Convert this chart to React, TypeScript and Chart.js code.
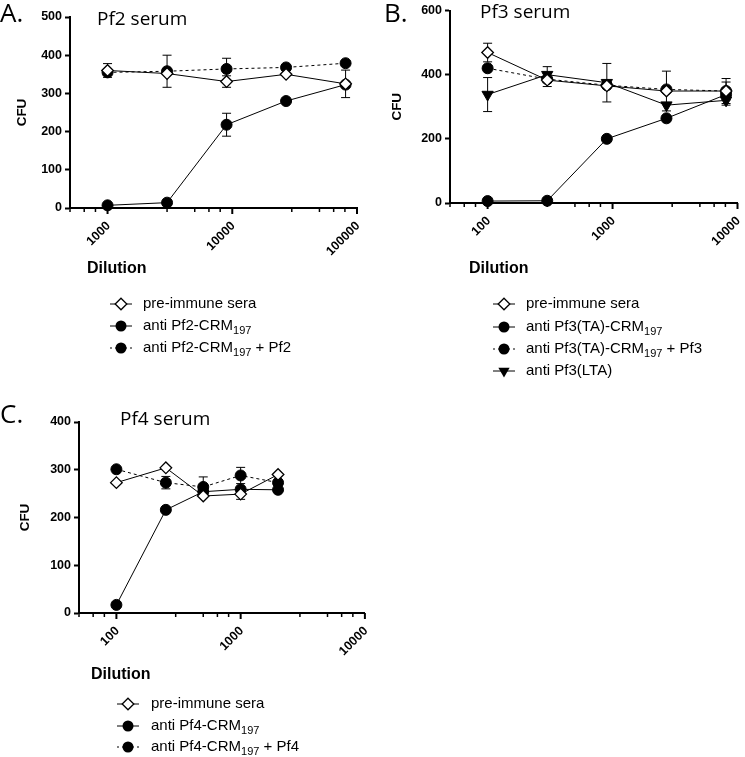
import React, { useEffect, useRef } from 'react';
import { Chart, registerables } from 'chart.js';
Chart.register(...registerables);

const SANS = '"Liberation Sans", Arial, sans-serif';
const TITLE = '"Open Sans", "Noto Sans", sans-serif';

// ---------- Panel A : Pf2 serum ----------
const dilutionA = [1000, 3000, 9000, 27000, 81000];
const preImmuneA = [360, 352, 331, 350, 325];
const preImmuneErrA = [18, 0, 15, 0, 36];
const antiPf2A = [7, 14, 218, 280, 323];
const antiPf2ErrA = [0, 0, 30, 0, 0];
const antiPf2PlusA = [355, 358, 364, 368, 379];
const antiPf2PlusErrA = [0, 42, 28, 0, 0];
const xTicksA = [500, 650, 800, 1000, 3000, 5000, 6500, 8000, 10000, 30000, 50000, 65000, 80000, 100000];
const xLabelsA = [1000, 10000, 100000];
const yTicksA = [0, 100, 200, 300, 400, 500];

// ---------- Panel B : Pf3 serum ----------
const dilutionB = [100, 300, 900, 2700, 8100];
const preImmuneB = [469, 383, 365, 349, 349];
const preImmuneErrB = [29, 20, 0, 62, 39];
const antiPf3B = [6, 7, 200, 264, 338];
const antiPf3ErrB = [0, 0, 0, 8, 0];
const antiPf3PlusB = [420, 386, 367, 354, 349];
const antiPf3PlusErrB = [0, 0, 0, 0, 28];
const antiLtaB = [338, 400, 375, 305, 320];
const antiLtaErrB = [53, 25, 60, 0, 15];
const xTicksB = [50, 65, 80, 100, 300, 500, 650, 800, 1000, 3000, 5000, 6500, 8000, 10000];
const xLabelsB = [100, 1000, 10000];
const yTicksB = [0, 200, 400, 600];

// ---------- Panel C : Pf4 serum ----------
const dilutionC = [100, 250, 500, 1000, 2000];
const preImmuneC = [273, 304, 245, 249, 290];
const preImmuneErrC = [0, 0, 0, 11, 0];
const antiPf4C = [17, 216, 254, 259, 258];
const antiPf4ErrC = [0, 0, 0, 0, 0];
const antiPf4PlusC = [301, 273, 264, 288, 273];
const antiPf4PlusErrC = [0, 13, 21, 17, 0];
const xTicksC = [50, 65, 80, 100, 300, 500, 650, 800, 1000, 3000, 5000, 6500, 8000, 10000];
const xLabelsC = [100, 1000, 10000];
const yTicksC = [0, 100, 200, 300, 400];

type Marker = 'diamond' | 'circle' | 'triangleDown';
type Series = { label: string; legend: string; values: number[]; errors: number[]; marker: Marker; dashed: boolean };
type Panel = {
  left: number; top: number; width: number; height: number;
  plot: { left: number; top: number; right: number; bottom: number };
  letter: string; letterX: number; letterY: number;
  title: string; titleX: number; titleY: number;
  dilX: number; dilY: number;
  legX: number; legTextX: number; legY: number[];
  cfuPad: number;
  xMin: number; xMax: number; yMax: number;
  xTicks: number[]; xLabels: number[]; yTicks: number[];
  dilutions: number[];
  series: Series[];
};

const panels: Panel[] = [
  {
    left: 0, top: 0, width: 372, height: 370,
    plot: { left: 70, top: 17, right: 357, bottom: 208 },
    letter: 'A.', letterX: 0, letterY: 22,
    title: 'Pf2 serum', titleX: 97, titleY: 25,
    dilX: 87, dilY: 269,
    legX: 121, legTextX: 143, legY: [304, 326, 348],
    cfuPad: 14,
    xMin: 500, xMax: 100000, yMax: 500,
    xTicks: xTicksA, xLabels: xLabelsA, yTicks: yTicksA,
    dilutions: dilutionA,
    series: [
      { label: 'pre-immune sera', legend: 'pre-immune sera', values: preImmuneA, errors: preImmuneErrA, marker: 'diamond', dashed: false },
      { label: 'anti Pf2-CRM197', legend: 'anti Pf2-CRM_{197}', values: antiPf2A, errors: antiPf2ErrA, marker: 'circle', dashed: false },
      { label: 'anti Pf2-CRM197 + Pf2', legend: 'anti Pf2-CRM_{197} + Pf2', values: antiPf2PlusA, errors: antiPf2PlusErrA, marker: 'circle', dashed: true },
    ],
  },
  {
    left: 372, top: 0, width: 373, height: 400,
    plot: { left: 78, top: 10, right: 371, bottom: 203 },
    letter: 'B.', letterX: 12, letterY: 22,
    title: 'Pf3 serum', titleX: 108, titleY: 18,
    dilX: 97, dilY: 269,
    legX: 132, legTextX: 154, legY: [304, 327, 349, 371],
    cfuPad: 17,
    xMin: 50, xMax: 10000, yMax: 600,
    xTicks: xTicksB, xLabels: xLabelsB, yTicks: yTicksB,
    dilutions: dilutionB,
    series: [
      { label: 'pre-immune sera', legend: 'pre-immune sera', values: preImmuneB, errors: preImmuneErrB, marker: 'diamond', dashed: false },
      { label: 'anti Pf3(TA)-CRM197', legend: 'anti Pf3(TA)-CRM_{197}', values: antiPf3B, errors: antiPf3ErrB, marker: 'circle', dashed: false },
      { label: 'anti Pf3(TA)-CRM197 + Pf3', legend: 'anti Pf3(TA)-CRM_{197} + Pf3', values: antiPf3PlusB, errors: antiPf3PlusErrB, marker: 'circle', dashed: true },
      { label: 'anti Pf3(LTA)', legend: 'anti Pf3(LTA)', values: antiLtaB, errors: antiLtaErrB, marker: 'triangleDown', dashed: false },
    ],
  },
  {
    left: 0, top: 370, width: 372, height: 387,
    plot: { left: 79, top: 52, right: 366, bottom: 243 },
    letter: 'C.', letterX: 0, letterY: 53,
    title: 'Pf4 serum', titleX: 120, titleY: 55,
    dilX: 91, dilY: 305,
    legX: 128, legTextX: 151, legY: [334, 356, 377],
    cfuPad: 17,
    xMin: 50, xMax: 10000, yMax: 400,
    xTicks: xTicksC, xLabels: xLabelsC, yTicks: yTicksC,
    dilutions: dilutionC,
    series: [
      { label: 'pre-immune sera', legend: 'pre-immune sera', values: preImmuneC, errors: preImmuneErrC, marker: 'diamond', dashed: false },
      { label: 'anti Pf4-CRM197', legend: 'anti Pf4-CRM_{197}', values: antiPf4C, errors: antiPf4ErrC, marker: 'circle', dashed: false },
      { label: 'anti Pf4-CRM197 + Pf4', legend: 'anti Pf4-CRM_{197} + Pf4', values: antiPf4PlusC, errors: antiPf4PlusErrC, marker: 'circle', dashed: true },
    ],
  },
];

function drawMarker(ctx: CanvasRenderingContext2D, m: Marker, x: number, y: number) {
  ctx.save();
  ctx.setLineDash([]);
  ctx.strokeStyle = '#000';
  ctx.beginPath();
  if (m === 'circle') {
    ctx.arc(x, y, 5.5, 0, Math.PI * 2);
    ctx.fillStyle = '#000';
    ctx.fill();
  } else if (m === 'diamond') {
    const r = 5.8;
    ctx.moveTo(x, y - r); ctx.lineTo(x + r, y); ctx.lineTo(x, y + r); ctx.lineTo(x - r, y); ctx.closePath();
    ctx.fillStyle = '#fff';
    ctx.fill();
    ctx.lineWidth = 1.3;
    ctx.stroke();
  } else {
    const r = 6.5;
    ctx.moveTo(x - r * 0.866, y - r * 0.5); ctx.lineTo(x + r * 0.866, y - r * 0.5); ctx.lineTo(x, y + r); ctx.closePath();
    ctx.fillStyle = '#000';
    ctx.fill();
  }
  ctx.restore();
}

function makePlugin(p: Panel) {
  return {
    id: 'panelDecor',
    beforeDatasetsDraw(chart: any) {
      const ctx: CanvasRenderingContext2D = chart.ctx;
      const xs = chart.scales.x, ys = chart.scales.y;
      ctx.save();
      ctx.strokeStyle = '#000';
      ctx.lineWidth = 1;
      p.series.forEach((s) => {
        s.errors.forEach((e, i) => {
          if (!e) return;
          const px = xs.getPixelForValue(p.dilutions[i]);
          const yt = ys.getPixelForValue(s.values[i] + e);
          const yb = ys.getPixelForValue(s.values[i] - e);
          ctx.beginPath();
          ctx.moveTo(px, yt); ctx.lineTo(px, yb);
          ctx.moveTo(px - 4.5, yt); ctx.lineTo(px + 4.5, yt);
          ctx.moveTo(px - 4.5, yb); ctx.lineTo(px + 4.5, yb);
          ctx.stroke();
        });
      });
      ctx.restore();
    },
    afterDraw(chart: any) {
      const ctx: CanvasRenderingContext2D = chart.ctx;
      const xs = chart.scales.x;
      const ca = chart.chartArea;
      ctx.save();
      // x-axis tick marks (major longer than minor) and rotated decade labels
      ctx.strokeStyle = '#000';
      ctx.fillStyle = '#000';
      xs.ticks.forEach((t: any) => {
        const major = p.xLabels.includes(t.value);
        const px = xs.getPixelForValue(t.value);
        ctx.lineWidth = major ? 2 : 1.5;
        ctx.beginPath();
        ctx.moveTo(px, ca.bottom);
        ctx.lineTo(px, ca.bottom + (major ? 6 : 4));
        ctx.stroke();
        if (major) {
          ctx.save();
          ctx.translate(px + 1, ca.bottom + 16);
          ctx.rotate(-Math.PI / 4);
          ctx.font = `bold 12.5px ${SANS}`;
          ctx.textAlign = 'right';
          ctx.textBaseline = 'middle';
          ctx.fillText(String(t.value), 0, 0);
          ctx.restore();
        }
      });
      // panel letter
      ctx.font = `26px ${TITLE}`;
      ctx.textAlign = 'left';
      ctx.textBaseline = 'alphabetic';
      ctx.fillText(p.letter, p.letterX, p.letterY);
      // title
      ctx.font = `19px ${TITLE}`;
      ctx.fillText(p.title, p.titleX, p.titleY);
      // x axis title
      ctx.font = `bold 16px ${SANS}`;
      ctx.textBaseline = 'middle';
      ctx.fillText('Dilution', p.dilX, p.dilY);
      // legend
      p.series.forEach((s, i) => {
        const y = p.legY[i];
        ctx.save();
        ctx.strokeStyle = '#000';
        ctx.lineWidth = 1;
        ctx.setLineDash(s.dashed ? [2, 3] : []);
        ctx.beginPath();
        ctx.moveTo(p.legX - 11, y);
        ctx.lineTo(p.legX + 11, y);
        ctx.stroke();
        ctx.restore();
        drawMarker(ctx, s.marker, p.legX, y);
        const parts = s.legend.split(/_\{(\d+)\}/);
        let x = p.legTextX;
        parts.forEach((part, k) => {
          if (!part) return;
          if (k % 2 === 1) {
            ctx.font = `11px ${SANS}`;
            ctx.fillText(part, x, y + 5);
          } else {
            ctx.font = `15px ${SANS}`;
            ctx.fillText(part, x, y);
          }
          x += ctx.measureText(part).width;
        });
      });
      ctx.restore();
    },
  };
}

function PanelChart({ p }: { p: Panel }) {
  const ref = useRef<HTMLCanvasElement | null>(null);
  useEffect(() => {
    if (!ref.current) return;
    const datasets = p.series.map((s) => ({
      label: s.label,
      data: p.dilutions.map((x, i) => ({ x, y: s.values[i] })),
      showLine: true,
      borderColor: '#000',
      borderWidth: 1,
      borderDash: s.dashed ? [3, 3] : [],
      pointStyle: s.marker === 'diamond' ? 'rectRot' : s.marker === 'circle' ? 'circle' : 'triangle',
      pointRotation: s.marker === 'triangleDown' ? 180 : 0,
      pointRadius: s.marker === 'triangleDown' ? 6.5 : s.marker === 'diamond' ? 5.8 : 5.5,
      pointBackgroundColor: s.marker === 'diamond' ? '#fff' : '#000',
      pointBorderColor: '#000',
      pointBorderWidth: s.marker === 'diamond' ? 1.3 : 1,
      clip: false,
    }));
    const chart = new Chart(ref.current, {
      type: 'scatter',
      data: { datasets },
      options: {
        responsive: false,
        animation: false,
        events: [],
        layout: { padding: { left: 0, top: p.plot.top, right: p.width - p.plot.right, bottom: 0 } },
        plugins: { legend: { display: false }, tooltip: { enabled: false } },
        scales: {
          x: {
            type: 'logarithmic',
            min: p.xMin,
            max: p.xMax,
            afterBuildTicks: (s: any) => { s.ticks = p.xTicks.map((v) => ({ value: v })); },
            afterFit: (s: any) => { s.height = p.height - p.plot.bottom; s.paddingLeft = 0; s.paddingRight = 0; },
            ticks: { display: false, autoSkip: false },
            grid: { display: false, drawOnChartArea: false, drawTicks: false },
            border: { display: true, color: '#000', width: 2 },
          },
          y: {
            min: 0,
            max: p.yMax,
            afterBuildTicks: (s: any) => { s.ticks = p.yTicks.map((v) => ({ value: v })); },
            afterFit: (s: any) => { s.width = p.plot.left; },
            ticks: { padding: 3, color: '#000', font: { family: SANS, size: 12.5, weight: 'bold' } },
            grid: { display: true, drawOnChartArea: false, drawTicks: true, tickLength: 5, tickWidth: 2, tickColor: '#000' },
            border: { display: true, color: '#000', width: 2 },
            title: {
              display: true,
              text: 'CFU',
              color: '#000',
              font: { family: SANS, size: 13.5, weight: 'bold' },
              padding: { top: p.cfuPad, bottom: 0 },
            },
          },
        },
      },
      plugins: [makePlugin(p)],
    } as any);
    return () => chart.destroy();
  }, [p]);
  return (
    <canvas
      ref={ref}
      width={p.width}
      height={p.height}
      style={{ position: 'absolute', left: p.left, top: p.top, width: p.width, height: p.height }}
    />
  );
}

export default function App() {
  return (
    <div style={{ position: 'absolute', left: 0, top: 0, width: 745, height: 757, background: '#fff', overflow: 'hidden' }}>
      {panels.map((p, i) => (
        <PanelChart key={i} p={p} />
      ))}
    </div>
  );
}
